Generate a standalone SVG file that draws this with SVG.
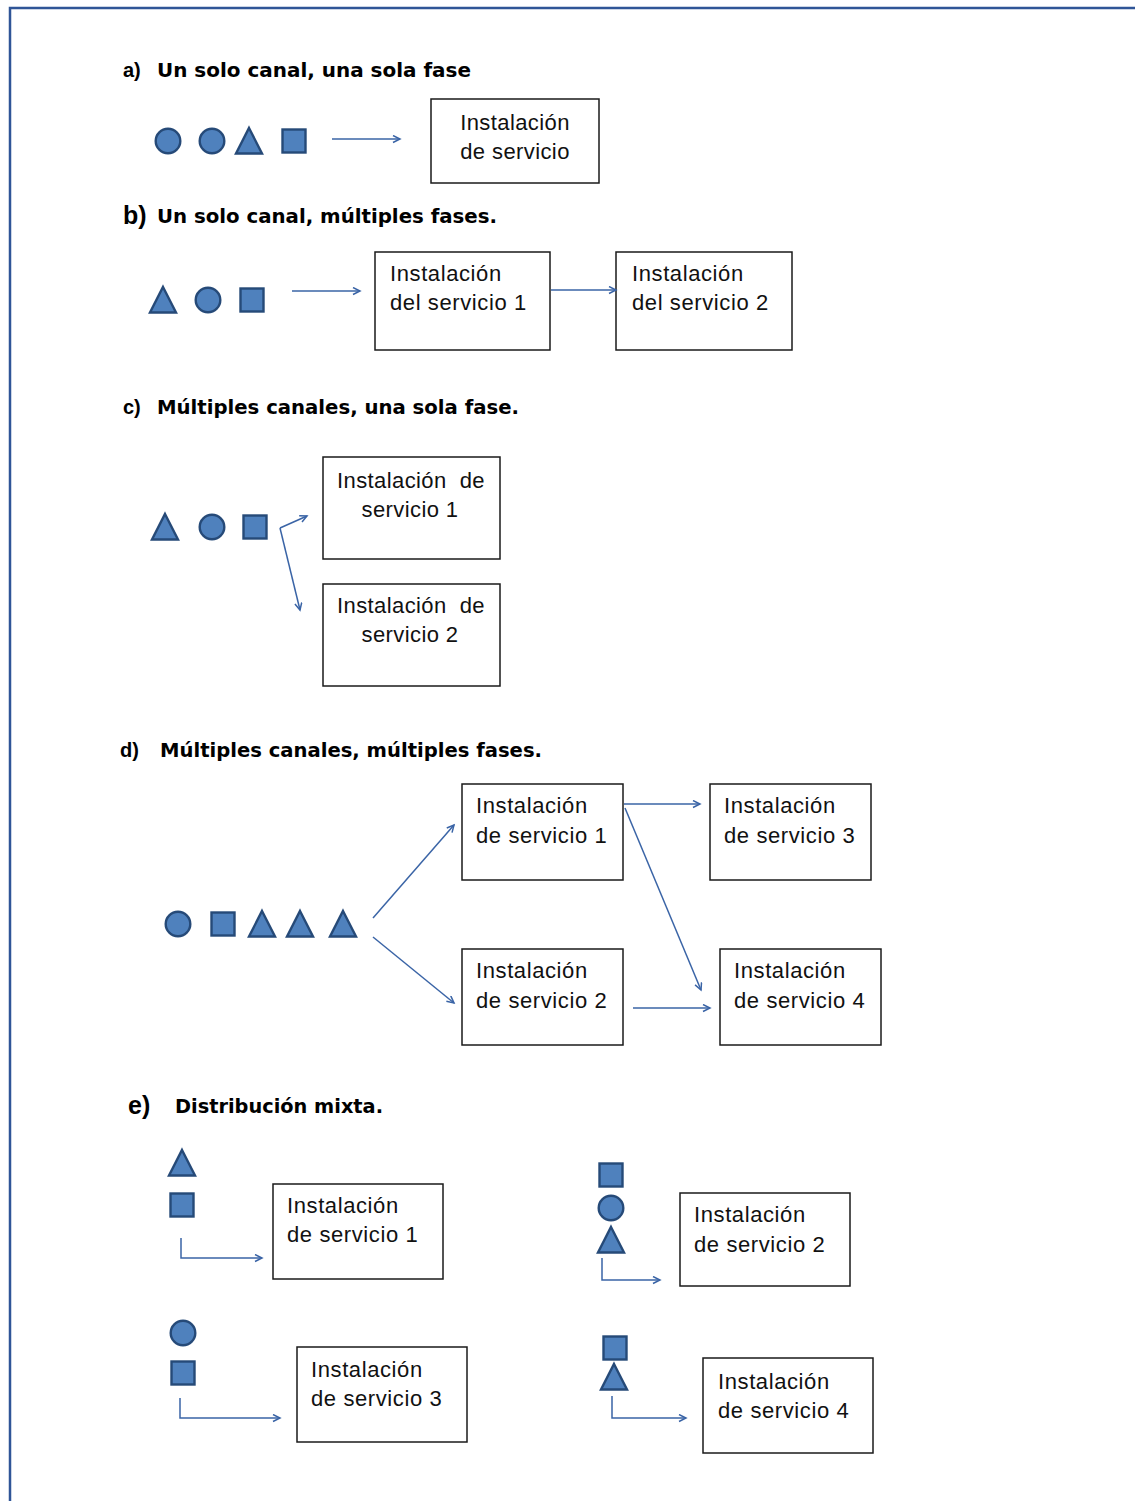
<svg xmlns="http://www.w3.org/2000/svg" width="1135" height="1501" viewBox="0 0 1135 1501">
  <defs>
    <style>
      .frame { fill: none; stroke: #2f5597; stroke-width: 2.5; }
      .box { fill: #ffffff; stroke: #1a1a1a; stroke-width: 1.5; }
      .shape { fill: #4f81bd; stroke: #264a78; stroke-width: 2.4; }
      .conn { fill: none; stroke: #3a64a6; stroke-width: 1.5; }
      .lbl { font-family: "Liberation Sans", Arial, sans-serif; font-size: 22px; letter-spacing: 0.6px; fill: #111111; }
      .lblc { font-family: "Liberation Sans", Arial, sans-serif; font-size: 22px; letter-spacing: 0.4px; fill: #111111; text-anchor: middle; }
      .tag { font-family: "Liberation Sans", Arial, sans-serif; font-weight: bold; font-size: 20px; fill: #000000; }
      .tagL { font-family: "Liberation Sans", Arial, sans-serif; font-weight: bold; font-size: 25px; fill: #000000; }
      .head { font-family: "DejaVu Sans", Verdana, sans-serif; font-weight: bold; font-size: 19px; fill: #000000; }
    </style>
    <marker id="arr" markerWidth="10" markerHeight="10" refX="8" refY="4" orient="auto" markerUnits="userSpaceOnUse">
      <path d="M1,0.5 L8,4 L1,7.5" fill="none" stroke="#3a64a6" stroke-width="1.5"/>
    </marker>
    <circle id="circ" r="12.3" class="shape"/>
    <rect id="sq" x="-11.5" y="-11.5" width="23" height="23" class="shape"/>
    <path id="tri" d="M0,-13 L13,12.5 L-13,12.5 Z" class="shape"/>
  </defs>

  <rect width="1135" height="1501" fill="#ffffff"/>
  <!-- page frame: top and left edges -->
  <path class="frame" d="M10,1501 L10,8 L1135,8"/>

  <!-- section headings -->
  <g id="headings">
    <text class="tag" x="123" y="77">a)</text>
    <text class="head" x="157" y="77" textLength="314" lengthAdjust="spacingAndGlyphs">Un solo canal, una sola fase</text>
    <text class="tagL" x="123" y="224">b)</text>
    <text class="head" x="157" y="223" textLength="340" lengthAdjust="spacingAndGlyphs">Un solo canal, múltiples fases.</text>
    <text class="tag" x="123" y="414">c)</text>
    <text class="head" x="157" y="414" textLength="362" lengthAdjust="spacingAndGlyphs">Múltiples canales, una sola fase.</text>
    <text class="tag" x="120" y="757">d)</text>
    <text class="head" x="160" y="757" textLength="382" lengthAdjust="spacingAndGlyphs">Múltiples canales, múltiples fases.</text>
    <text class="tagL" x="128" y="1114">e)</text>
    <text class="head" x="175" y="1113" textLength="208" lengthAdjust="spacingAndGlyphs">Distribución mixta.</text>
  </g>

  <!-- customer queues -->
  <g id="queue-a">
    <use href="#circ" x="168" y="141"/>
    <use href="#circ" x="212" y="141"/>
    <use href="#tri" x="249" y="141"/>
    <use href="#sq" x="294" y="141"/>
  </g>
  <g id="queue-b">
    <use href="#tri" x="163" y="300"/>
    <use href="#circ" x="208" y="300"/>
    <use href="#sq" x="252" y="300"/>
  </g>
  <g id="queue-c">
    <use href="#tri" x="165" y="527"/>
    <use href="#circ" x="212" y="527"/>
    <use href="#sq" x="255" y="527"/>
  </g>
  <g id="queue-d">
    <use href="#circ" x="178" y="924"/>
    <use href="#sq" x="223" y="924"/>
    <use href="#tri" x="262" y="924"/>
    <use href="#tri" x="300" y="924"/>
    <use href="#tri" x="343" y="924"/>
  </g>
  <g id="queue-e1">
    <use href="#tri" x="182" y="1163"/>
    <use href="#sq" x="182" y="1205"/>
  </g>
  <g id="queue-e2">
    <use href="#sq" x="611" y="1175"/>
    <use href="#circ" x="611" y="1208"/>
    <use href="#tri" x="611" y="1240"/>
  </g>
  <g id="queue-e3">
    <use href="#circ" x="183" y="1333"/>
    <use href="#sq" x="183" y="1373"/>
  </g>
  <g id="queue-e4">
    <use href="#sq" x="615" y="1348"/>
    <use href="#tri" x="614" y="1377"/>
  </g>

  <!-- service facilities -->
  <g id="a-srv">
    <rect class="box" x="431" y="99" width="168" height="84"/>
    <text class="lblc" x="515" y="130">Instalación</text>
    <text class="lblc" x="515" y="159">de servicio</text>
  </g>
  <g id="b-srv1">
    <rect class="box" x="375" y="252" width="175" height="98"/>
    <text class="lbl" x="390" y="281">Instalación</text>
    <text class="lbl" x="390" y="310">del servicio 1</text>
  </g>
  <g id="b-srv2">
    <rect class="box" x="616" y="252" width="176" height="98"/>
    <text class="lbl" x="632" y="281">Instalación</text>
    <text class="lbl" x="632" y="310">del servicio 2</text>
  </g>
  <g id="c-srv1">
    <rect class="box" x="323" y="457" width="177" height="102"/>
    <text class="lblc" x="411" y="488" xml:space="preserve">Instalación  de</text>
    <text class="lblc" x="410" y="517">servicio 1</text>
  </g>
  <g id="c-srv2">
    <rect class="box" x="323" y="584" width="177" height="102"/>
    <text class="lblc" x="411" y="613" xml:space="preserve">Instalación  de</text>
    <text class="lblc" x="410" y="642">servicio 2</text>
  </g>
  <g id="d-srv1">
    <rect class="box" x="462" y="784" width="161" height="96"/>
    <text class="lbl" x="476" y="813">Instalación</text>
    <text class="lbl" x="476" y="843">de servicio 1</text>
  </g>
  <g id="d-srv2">
    <rect class="box" x="462" y="949" width="161" height="96"/>
    <text class="lbl" x="476" y="978">Instalación</text>
    <text class="lbl" x="476" y="1008">de servicio 2</text>
  </g>
  <g id="d-srv3">
    <rect class="box" x="710" y="784" width="161" height="96"/>
    <text class="lbl" x="724" y="813">Instalación</text>
    <text class="lbl" x="724" y="843">de servicio 3</text>
  </g>
  <g id="d-srv4">
    <rect class="box" x="720" y="949" width="161" height="96"/>
    <text class="lbl" x="734" y="978">Instalación</text>
    <text class="lbl" x="734" y="1008">de servicio 4</text>
  </g>
  <g id="e-srv1">
    <rect class="box" x="273" y="1184" width="170" height="95"/>
    <text class="lbl" x="287" y="1213">Instalación</text>
    <text class="lbl" x="287" y="1242">de servicio 1</text>
  </g>
  <g id="e-srv2">
    <rect class="box" x="680" y="1193" width="170" height="93"/>
    <text class="lbl" x="694" y="1222">Instalación</text>
    <text class="lbl" x="694" y="1252">de servicio 2</text>
  </g>
  <g id="e-srv3">
    <rect class="box" x="297" y="1347" width="170" height="95"/>
    <text class="lbl" x="311" y="1377">Instalación</text>
    <text class="lbl" x="311" y="1406">de servicio 3</text>
  </g>
  <g id="e-srv4">
    <rect class="box" x="703" y="1358" width="170" height="95"/>
    <text class="lbl" x="718" y="1389">Instalación</text>
    <text class="lbl" x="718" y="1418">de servicio 4</text>
  </g>

  <!-- flow connectors -->
  <g id="connectors">
    <line class="conn" x1="332" y1="139" x2="400" y2="139" marker-end="url(#arr)"/>
    <line class="conn" x1="292" y1="291" x2="360" y2="291" marker-end="url(#arr)"/>
    <line class="conn" x1="551" y1="290" x2="616" y2="290" marker-end="url(#arr)"/>
    <path class="conn" d="M280,528 L307,516" marker-end="url(#arr)"/>
    <path class="conn" d="M280,528 L300,610" marker-end="url(#arr)"/>
    <line class="conn" x1="373" y1="918" x2="454" y2="825" marker-end="url(#arr)"/>
    <line class="conn" x1="373" y1="937" x2="454" y2="1003" marker-end="url(#arr)"/>
    <line class="conn" x1="624" y1="804" x2="700" y2="804" marker-end="url(#arr)"/>
    <line class="conn" x1="625" y1="808" x2="701" y2="990" marker-end="url(#arr)"/>
    <line class="conn" x1="633" y1="1008" x2="710" y2="1008" marker-end="url(#arr)"/>
    <path class="conn" d="M181,1238 L181,1258 L262,1258" marker-end="url(#arr)"/>
    <path class="conn" d="M602,1258 L602,1280 L660,1280" marker-end="url(#arr)"/>
    <path class="conn" d="M180,1398 L180,1418 L280,1418" marker-end="url(#arr)"/>
    <path class="conn" d="M612,1396 L612,1418 L686,1418" marker-end="url(#arr)"/>
  </g>
</svg>
